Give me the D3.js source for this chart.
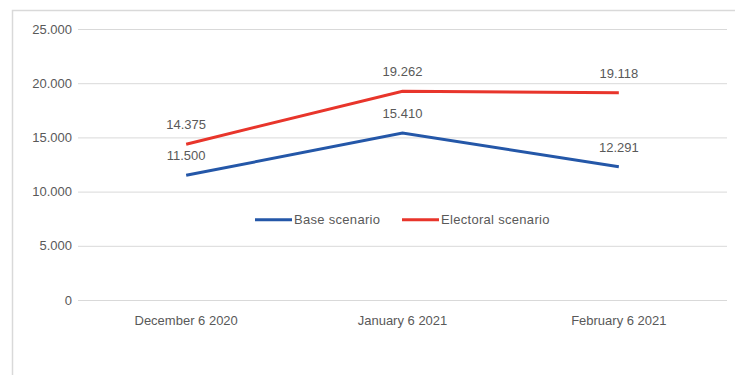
<!DOCTYPE html>
<html>
<head>
<meta charset="utf-8">
<script src="https://cdn.jsdelivr.net/npm/d3@7"></script>
<style>
  body { margin: 0; background: #fff; }
  text { font-family: "Liberation Sans", "Open Sans", sans-serif; fill: #595959; }
</style>
</head>
<body>
<div id="chart"></div>
<script>
// data
const categories = ["December 6 2020", "January 6 2021", "February 6 2021"];
const baseValues = [11500, 15410, 12291];
const electoralValues = [14375, 19262, 19118];
const yTicks = [0, 5000, 10000, 15000, 20000, 25000];
const seriesNames = ["Base scenario", "Electoral scenario"];
const seriesColors = ["#2457a8", "#e8352b"];

const W = 735, H = 375;
const margin = {top: 29, right: 8, bottom: 75, left: 78};
const width = W - margin.left - margin.right;
const height = H - margin.top - margin.bottom;

const fmt = d => d === 0 ? "0" : d3.format(",.0f")(d).replace(/,/g, ".");

const root = d3.select("#chart").append("svg")
    .attr("width", W)
    .attr("height", H);

// outer frame
root.append("path")
    .attr("d", `M12.5,${H} V10.5 H${W}`)
    .attr("fill", "none")
    .attr("stroke", "#d9d9d9")
    .attr("stroke-width", 1.5);

const svg = root.append("g")
    .attr("transform", `translate(${margin.left}, ${margin.top})`);

const xScale = d3.scaleBand()
    .domain(categories)
    .range([0, width]);

const yScale = d3.scaleLinear()
    .domain([0, 25000])
    .range([height, 0]);

// y axis + gridlines
svg.append("g")
    .call(d3.axisLeft(yScale).tickValues(yTicks).tickFormat(fmt).tickSize(-width).tickPadding(6))
    .call(g => g.select(".domain").remove())
    .call(g => g.selectAll(".tick line").attr("stroke", "#d9d9d9").attr("stroke-width", 1))
    .call(g => g.selectAll(".tick text").attr("font-size", 13).style("fill", "#595959"));

// x axis
svg.append("g")
    .attr("transform", `translate(0, ${height})`)
    .call(d3.axisBottom(xScale).tickSize(0).tickPadding(16))
    .call(g => g.select(".domain").remove())
    .call(g => g.selectAll(".tick text").attr("font-size", 13).style("fill", "#595959"));

const series = [
  {name: seriesNames[0], values: baseValues, color: seriesColors[0]},
  {name: seriesNames[1], values: electoralValues, color: seriesColors[1]}
];

const line = d3.line()
    .x((d, i) => xScale(categories[i]) + xScale.bandwidth() / 2)
    .y(d => yScale(d));

series.forEach(s => {
  svg.append("path")
      .datum(s.values)
      .attr("fill", "none")
      .attr("stroke", s.color)
      .attr("stroke-width", 3)
      .attr("d", line);

  svg.selectAll(null)
      .data(s.values)
      .enter()
      .append("text")
        .attr("x", (d, i) => xScale(categories[i]) + xScale.bandwidth() / 2)
        .attr("y", d => yScale(d) - 15)
        .attr("text-anchor", "middle")
        .attr("font-size", 13)
      .text(d => fmt(d));
});

// legend
const legend = svg.append("g")
    .attr("transform", `translate(0, ${yScale(7400)})`);
const legendX = [177, 324];
series.forEach((s, i) => {
  legend.append("line")
      .attr("x1", legendX[i]).attr("x2", legendX[i] + 37)
      .attr("y1", 0).attr("y2", 0)
      .attr("stroke", s.color)
      .attr("stroke-width", 3);
  legend.append("text")
      .attr("x", legendX[i] + 39)
      .attr("y", 4.5)
      .attr("font-size", 13)
      .attr("letter-spacing", 0.3)
    .text(s.name);
});
</script>
</body>
</html>
